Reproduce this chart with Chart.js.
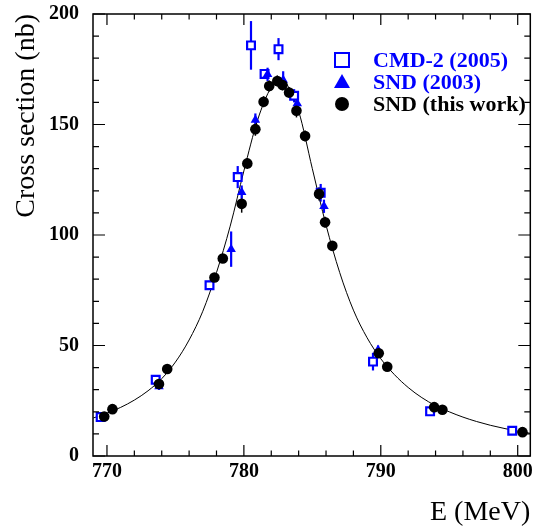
<!DOCTYPE html>
<html>
<head>
<meta charset="utf-8">
<script src="https://cdn.jsdelivr.net/npm/chart.js@4.4.1/dist/chart.umd.min.js"></script>
<style>
  body { margin: 0; background: #fff; }
</style>
</head>
<body>
<canvas id="chart1" width="538" height="530"></canvas>
<script>
// fit curve
var curveE = [769, 770, 771, 772, 773, 774, 775, 776, 777, 778, 779, 780, 781, 782, 782.6, 783, 784, 785, 786, 787, 788, 789, 790, 791, 792, 793, 794, 795, 796, 797, 798, 799, 800, 801];
var curveSigma = [17.2, 19.4, 22, 25.3, 29.5, 35, 42.5, 52.5, 65.5, 83, 104, 129, 152, 167, 171, 169.5, 156, 130, 104.5, 83, 66, 53.5, 44, 36.8, 31, 26.4, 22.8, 20, 17.6, 15.6, 13.9, 12.5, 11.2, 10.2];

// SND (this work)
var sndE = [769.8, 770.4, 773.8, 774.4, 777.85, 778.46, 779.84, 780.25, 780.84, 781.44, 781.85, 782.44, 782.82, 783.3, 783.84, 784.47, 785.49, 785.93, 786.46, 789.85, 790.47, 793.9, 794.5, 800.35];
var sndSigma = [17.9, 21.2, 32.6, 39.4, 80.8, 89.4, 114.1, 132.4, 147.9, 160.3, 167.4, 169.7, 167.9, 164.5, 156.2, 144.8, 118.6, 105.8, 95.1, 46.5, 40.4, 22.1, 20.9, 10.8];
var sndErr = [1, 1, 1.2, 1.2, 2, 2, 4, 2.5, 3, 2.5, 2.5, 2.5, 2.5, 2.5, 3, 2.5, 3, 2.5, 2, 1.5, 1.5, 1, 1, 0.8];

// CMD-2 (2005)
var cmdE = [769.54, 773.56, 777.49, 779.55, 780.52, 781.51, 782.53, 783.67, 785.61, 789.43, 793.6, 799.6];
var cmdSigma = [17.6, 34.5, 77.3, 126.2, 185.8, 172.9, 184.1, 163, 119.1, 42.7, 20.2, 11.4];
var cmdErr = [1.5, 1.5, 2, 5, 11, 2, 5, 3, 4, 4, 1, 1];

// SND (2003)
var snd03E = [773.8, 779.07, 779.84, 780.84, 781.73, 782.87, 783.9, 785.85, 789.8];
var snd03Sigma = [31.4, 93.6, 119.4, 152, 172.7, 170.1, 159.5, 113, 48];
var snd03Err = [1.5, 8, 3, 3, 3, 4, 4, 3, 2];

var xTicks = [770, 780, 790, 800];
var yTicks = [0, 50, 100, 150, 200];
var legendLabels = ["CMD-2 (2005)", "SND (2003)", "SND (this work)"];

var serif = "'Liberation Serif', 'Times New Roman', serif";
var blue = "rgb(0, 0, 255)";

function pts(xs, ys) {
  return xs.map(function (x, i) { return { x: x, y: ys[i] }; });
}

var errorBars = {
  id: "errorBars",
  beforeDatasetsDraw: function (chart) {
    var ctx = chart.ctx, xs = chart.scales.x, ys = chart.scales.y;
    chart.data.datasets.forEach(function (ds) {
      if (!ds.errors) return;
      ctx.save();
      ctx.strokeStyle = ds.borderColor;
      ctx.lineWidth = ds.errWidth;
      ds.data.forEach(function (p, i) {
        var px = xs.getPixelForValue(p.x);
        ctx.beginPath();
        ctx.moveTo(px, ys.getPixelForValue(p.y - ds.errors[i]));
        ctx.lineTo(px, ys.getPixelForValue(p.y + ds.errors[i]));
        ctx.stroke();
      });
      ctx.restore();
    });
  }
};

var frame = {
  id: "frame",
  afterDatasetsDraw: function (chart) {
    var ctx = chart.ctx, a = chart.chartArea;
    var xs = chart.scales.x, ys = chart.scales.y;
    ctx.save();
    ctx.strokeStyle = "#000";
    ctx.lineWidth = 1.5;
    ctx.strokeRect(a.left, a.top, a.right - a.left, a.bottom - a.top);
    ctx.lineWidth = 1.2;
    ctx.beginPath();
    for (var e = 770; e <= 800; e += 2) {
      var px = xs.getPixelForValue(e);
      var len = xTicks.indexOf(e) >= 0 ? 11 : 5.5;
      ctx.moveTo(px, a.bottom); ctx.lineTo(px, a.bottom - len);
      ctx.moveTo(px, a.top); ctx.lineTo(px, a.top + len);
    }
    for (var s = 0; s <= 200; s += 10) {
      var py = ys.getPixelForValue(s);
      var l2 = yTicks.indexOf(s) >= 0 ? 12 : 6;
      ctx.moveTo(a.left, py); ctx.lineTo(a.left + l2, py);
      ctx.moveTo(a.right, py); ctx.lineTo(a.right - l2, py);
    }
    ctx.stroke();
    ctx.restore();
  }
};

var legendBox = {
  id: "legendBox",
  afterDraw: function (chart) {
    var ctx = chart.ctx;
    var sx = 342, tx = 373;
    var rows = [60, 82, 104];
    ctx.save();
    // open square
    ctx.strokeStyle = blue; ctx.lineWidth = 2;
    ctx.strokeRect(sx - 7, rows[0] - 7, 14, 14);
    // triangle
    ctx.fillStyle = blue;
    ctx.beginPath();
    ctx.moveTo(sx, rows[1] - 8);
    ctx.lineTo(sx + 8, rows[1] + 6);
    ctx.lineTo(sx - 8, rows[1] + 6);
    ctx.closePath(); ctx.fill();
    // dot
    ctx.fillStyle = "#000";
    ctx.beginPath(); ctx.arc(sx, rows[2], 7, 0, Math.PI * 2); ctx.fill();

    ctx.font = "bold 22px " + serif;
    ctx.textBaseline = "middle";
    ctx.textAlign = "left";
    legendLabels.forEach(function (t, i) {
      ctx.fillStyle = i < 2 ? blue : "#000";
      ctx.fillText(t, tx, rows[i] + 1);
    });
    ctx.restore();
  }
};

var ctx = document.getElementById("chart1");
var myChart = new Chart(ctx, {
  type: "scatter",
  data: {
    datasets: [
      {
        label: "SND (this work)",
        data: pts(sndE, sndSigma),
        errors: sndErr,
        errWidth: 1.5,
        pointStyle: "circle",
        pointRadius: 5.3,
        backgroundColor: "#000",
        borderColor: "#000",
        borderWidth: 0
      },
      {
        label: "SND (2003)",
        data: pts(snd03E, snd03Sigma),
        errors: snd03Err,
        errWidth: 2.2,
        pointStyle: "triangle",
        pointRadius: 5.5,
        backgroundColor: blue,
        borderColor: blue,
        borderWidth: 0
      },
      {
        label: "CMD-2 (2005)",
        data: pts(cmdE, cmdSigma),
        errors: cmdErr,
        errWidth: 2.2,
        pointStyle: "rect",
        pointRadius: 5.5,
        backgroundColor: "#fff",
        borderColor: blue,
        borderWidth: 2.2
      },
      {
        label: "fit",
        data: pts(curveE, curveSigma),
        showLine: true,
        cubicInterpolationMode: "monotone",
        pointRadius: 0,
        borderColor: "#000",
        borderWidth: 1
      }
    ]
  },
  options: {
    responsive: false,
    animation: false,
    layout: { padding: { top: 14, right: 5, bottom: 0, left: 0 } },
    plugins: {
      legend: { display: false },
      tooltip: { enabled: false }
    },
    scales: {
      x: {
        type: "linear",
        min: 768.98,
        max: 800.92,
        grid: { display: false, drawTicks: false },
        border: { display: false },
        afterBuildTicks: function (axis) {
          axis.ticks = xTicks.map(function (v) { return { value: v }; });
        },
        afterFit: function (axis) {
          axis.height = 74;
          axis.paddingLeft = 0;
          axis.paddingRight = 0;
        },
        ticks: {
          padding: 4,
          maxRotation: 0,
          color: "#000",
          font: { family: serif, size: 20, weight: "bold" }
        },
        title: {
          display: true,
          text: "E (MeV)",
          align: "end",
          color: "#000",
          padding: { top: 0, bottom: 1 },
          font: { family: serif, size: 28 }
        }
      },
      y: {
        type: "linear",
        min: 0,
        max: 200,
        grid: { display: false, drawTicks: false },
        border: { display: false },
        afterBuildTicks: function (axis) {
          axis.ticks = yTicks.map(function (v) { return { value: v }; });
        },
        afterFit: function (axis) {
          axis.width = 93;
          axis.paddingTop = 0;
          axis.paddingBottom = 0;
        },
        ticks: {
          padding: 14,
          color: "#000",
          font: { family: serif, size: 20, weight: "bold" }
        },
        title: {
          display: true,
          text: "Cross section (nb)",
          align: "end",
          color: "#000",
          padding: { top: 10, bottom: 0 },
          font: { family: serif, size: 28 }
        }
      }
    }
  },
  plugins: [errorBars, frame, legendBox]
});
</script>
</body>
</html>
